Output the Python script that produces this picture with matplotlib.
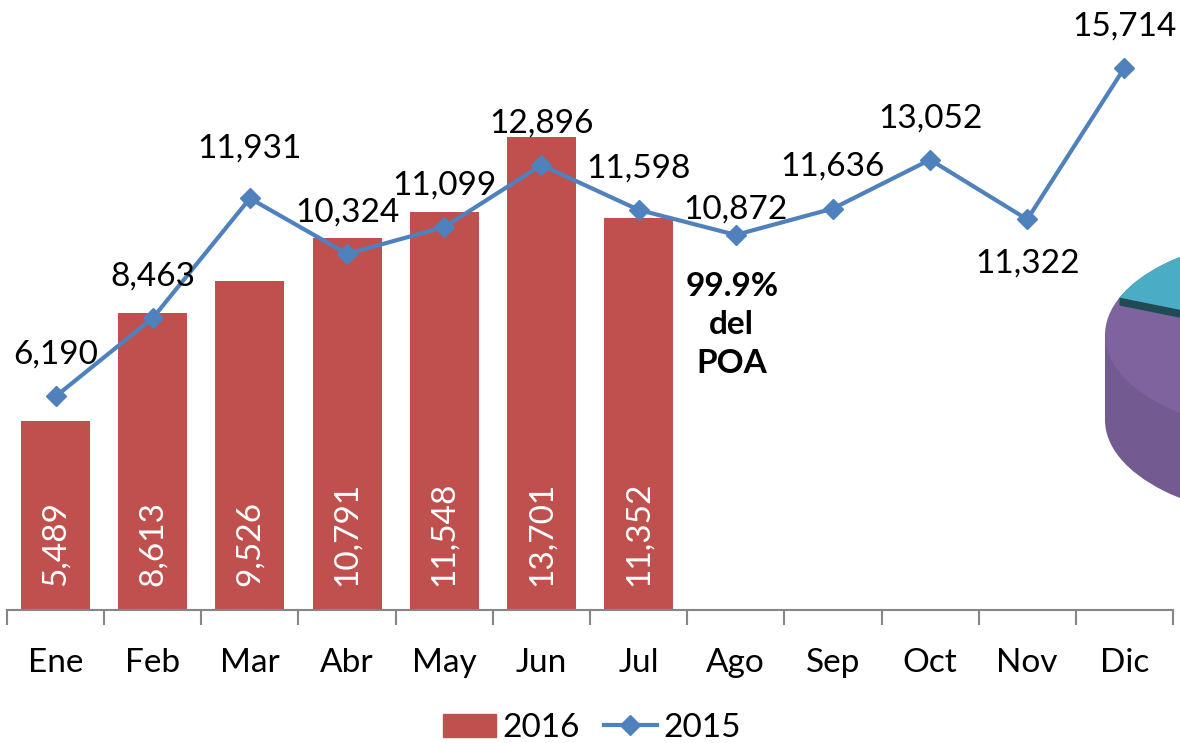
import matplotlib
matplotlib.use("Agg")
import matplotlib.pyplot as plt
import numpy as np
from matplotlib.patches import Ellipse, Rectangle, Polygon
from matplotlib.lines import Line2D
from matplotlib.patches import Patch

plt.rcParams['font.family'] = ['Lato', 'DejaVu Sans']

months = ["Ene", "Feb", "Mar", "Abr", "May", "Jun", "Jul", "Ago", "Sep", "Oct", "Nov", "Dic"]
values_2016 = [5489, 8613, 9526, 10791, 11548, 13701, 11352]
values_2015 = [6190, 8463, 11931, 10324, 11099, 12896, 11598, 10872, 11636, 13052, 11322, 15714]
note_text = "99.9%\ndel\nPOA"

BAR_C = "#C0504D"
LINE_C = "#4F81BD"
FS = 24

W, H = 1180, 743
fig = plt.figure(figsize=(W / 100, H / 100), dpi=100)
ax = fig.add_axes([7 / W, 133 / H, 1166 / W, 610 / H])
ax.set_xlim(-0.5, 11.5)
ax.set_ylim(0, 17681)

x = np.arange(len(months))
xb = np.arange(len(values_2016))
ax.bar(xb, values_2016, width=0.71, color=BAR_C, zorder=2)
ax.plot(x, values_2015, color=LINE_C, lw=3, marker="D", markersize=10.5,
        markeredgecolor=LINE_C, zorder=3)

# bar labels (white, rotated, anchored at base)
for xi, v in zip(xb, values_2016):
    ax.annotate(f"{v:,}", (xi, 0), xytext=(0, 17), textcoords="offset points",
                rotation=90, ha="center", va="bottom", color="white", fontsize=FS, zorder=4)

# line labels
for i, v in enumerate(values_2015):
    dy = 30
    if months[i] == "Nov":
        dy = -32
    elif months[i] == "Ago":
        dy = 18
    elif months[i] == "Mar":
        dy = 36
    ax.annotate(f"{v:,}", (i, v), xytext=(0, dy), textcoords="offset points",
                ha="center", va="center", color="black", fontsize=FS, zorder=5,
                annotation_clip=False)

ax.text(6.96, 8261, note_text, ha="center", va="center", fontsize=FS,
        fontweight="bold", linespacing=1.4, zorder=5)

for s in ["top", "right", "left"]:
    ax.spines[s].set_visible(False)
ax.spines["bottom"].set_color("#868686")
ax.spines["bottom"].set_linewidth(1.5)
ax.set_yticks([])
ax.set_xticks(x)
ax.set_xticklabels(months, fontsize=FS)
ax.tick_params(axis="x", which="major", length=0, pad=27)
ax.set_xticks(np.arange(-0.5, 12, 1), minor=True)
ax.tick_params(axis="x", which="minor", length=10.5, width=1.5, color="#868686")

handles = [Patch(facecolor=BAR_C, edgecolor=BAR_C),
           Line2D([0], [0], color=LINE_C, lw=3, marker="D", markersize=10.5)]
fig.legend(handles, ["2016", "2015"], loc="center", bbox_to_anchor=(592 / W, 1 - 728 / H),
           ncol=2, frameon=False, fontsize=FS, handlelength=1.6, handletextpad=0.2,
           columnspacing=0.7, borderaxespad=0, handleheight=0.7)

# decorative fragment of a neighbouring 3D pie at the right edge
ov = fig.add_axes([0, 0, 1, 1], zorder=10)
ov.set_xlim(0, W)
ov.set_ylim(H, 0)
ov.axis("off")
ov.patch.set_alpha(0)
cx, cy, a, b, th = 1305, 335, 200, 100, 85
ov.add_patch(Ellipse((cx, cy + th), 2 * a, 2 * b, color="#735A91", lw=0))
ov.add_patch(Rectangle((cx - a, cy), 2 * a, th, color="#735A91", lw=0))
ov.add_patch(Ellipse((cx, cy), 2 * a, 2 * b, color="#7F639F", lw=0))
t0 = np.deg2rad(202)
P = (cx + a * np.cos(t0), cy + b * np.sin(t0))
ov.add_patch(Polygon([P, (cx, cy), (cx, cy + 8), (P[0], P[1] + 8)], color="#1F4B55", lw=0))
ts = np.linspace(t0, np.deg2rad(300), 60)
pts = [(cx, cy)] + [(cx + a * np.cos(t), cy + b * np.sin(t)) for t in ts]
ov.add_patch(Polygon(pts, color="#4BACC6", lw=0))

fig.savefig("out.png", dpi=100)
